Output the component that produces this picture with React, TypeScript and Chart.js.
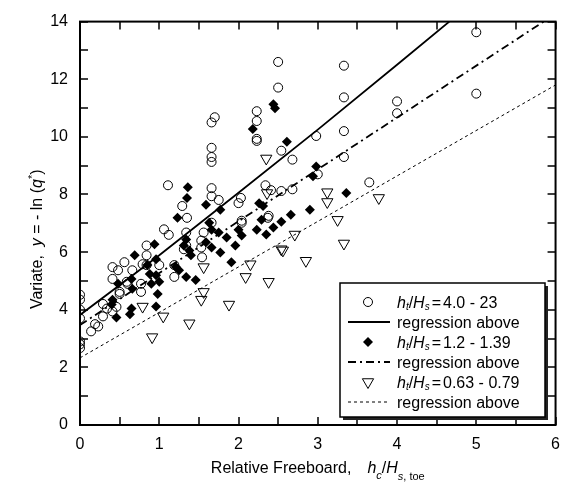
import React, { useEffect, useRef } from 'react';
import { Chart, registerables } from 'chart.js';

Chart.register(...registerables);

const FONT = '"Liberation Sans", Arial, Helvetica, sans-serif';

// h_t/H_s = 4.0 - 23 (open circles)
const circlePts: [number, number][] = [
  [0, 4.52], [0, 4.35], [0, 4.0], [0, 3.7], [0, 2.9], [0, 2.8], [0, 2.67],
  [0.14, 3.25], [0.19, 3.5], [0.23, 3.42], [0.29, 3.77], [0.29, 4.2], [0.41, 3.94], [0.46, 4.1], [0.5, 4.55],
  [0.34, 4.04], [0.6, 4.9], [0.5, 4.62],
  [0.41, 5.48], [0.48, 5.37], [0.41, 5.07], [0.56, 5.65], [0.66, 5.37], [0.59, 4.97], [0.77, 4.9], [0.77, 4.62],
  [0.84, 6.23], [0.84, 5.89], [0.84, 5.55], [0.79, 5.58], [1.0, 5.55], [1.06, 6.79], [1.12, 6.6], [1.19, 5.55], [1.19, 5.14],
  [1.34, 6.68], [1.35, 7.19], [1.29, 7.6], [1.53, 6.4], [1.53, 6.16], [1.54, 5.82], [1.56, 6.68], [1.66, 7.02],
  [2.0, 7.7], [2.04, 7.02], [2.37, 7.19], [1.34, 6.23], [1.31, 6.1],
  [1.11, 8.32], [1.7, 10.68], [1.66, 10.5], [1.66, 9.62], [1.66, 9.3], [1.66, 9.13], [1.66, 8.22], [1.66, 7.94],
  [1.75, 7.81], [2.03, 7.88],
  [2.23, 10.89], [2.23, 10.55], [2.23, 9.93], [2.23, 9.86], [2.5, 12.6], [2.5, 11.71], [2.54, 9.52], [2.68, 9.21],
  [2.34, 8.32], [2.41, 8.15], [2.54, 8.12], [2.68, 8.18], [2.98, 10.03], [2.38, 7.26], [2.04, 7.09],
  [3.0, 8.7], [3.33, 12.47], [3.33, 11.37], [3.33, 10.2], [3.33, 9.3], [3.65, 8.42], [4.0, 11.23], [4.0, 10.82],
  [5.0, 13.63], [5.0, 11.5],
];

// h_t/H_s = 1.2 - 1.39 (filled diamonds)
const diamondPts: [number, number][] = [
  [1.59, 7.64], [1.77, 7.47], [1.23, 7.19], [1.63, 7.02], [1.66, 6.78], [1.75, 6.68], [1.85, 6.51], [1.96, 6.23],
  [2.0, 6.78], [2.04, 6.58], [2.23, 6.78], [2.35, 6.61], [2.44, 6.85], [2.54, 7.05], [2.66, 7.3], [2.9, 7.47],
  [2.29, 7.12], [2.31, 7.6], [2.26, 7.7],
  [0.94, 6.27], [0.69, 5.89], [0.96, 5.75], [0.85, 5.55], [0.88, 5.24], [0.96, 5.2], [1.0, 4.97], [0.9, 4.9],
  [0.65, 5.07], [0.66, 4.73], [0.48, 4.9], [0.41, 4.35], [0.4, 4.18], [0.65, 4.04], [0.63, 3.84], [0.46, 3.73],
  [0.98, 4.55], [0.96, 4.11],
  [1.21, 5.48], [1.25, 5.37], [1.34, 5.14], [1.34, 6.44], [1.31, 6.23], [1.38, 6.06], [1.4, 5.89], [1.46, 5.03],
  [1.59, 6.34], [1.66, 6.16], [1.77, 5.99], [1.91, 5.65],
  [1.36, 8.25], [1.35, 7.88], [2.18, 10.27], [2.44, 11.13], [2.46, 10.99], [2.61, 9.83], [2.98, 8.97], [2.94, 8.63],
  [3.36, 8.05],
];

// h_t/H_s = 0.63 - 0.79 (open down triangles)
const trianglePts: [number, number][] = [
  [2.35, 9.25], [2.36, 8.05], [3.12, 8.08], [3.12, 7.74], [3.77, 7.88], [3.25, 7.12], [3.33, 6.3], [2.71, 6.61],
  [2.54, 6.1], [2.85, 5.7], [1.56, 5.48], [1.56, 4.62], [1.53, 4.35], [1.88, 4.18], [2.15, 5.58], [2.09, 5.14],
  [2.38, 4.97], [2.56, 6.06], [0.79, 4.11], [1.05, 3.77], [1.38, 3.53], [0.91, 3.05],
];

// regression lines
const solidLine: [number, number][] = [[0, 3.82], [1, 5.89], [2, 8.06], [3, 10.25], [4, 12.5], [4.66, 14]];
const dashDotLine: [number, number][] = [[0, 3.47], [5.85, 14.0]];
const dottedLine: [number, number][] = [[0, 2.33], [6, 11.8]];

const xTickLabels = [0, 1, 2, 3, 4, 5, 6];
const yTickLabels = [0, 2, 4, 6, 8, 10, 12, 14];
const xMarkTicks = [0, 0.5, 1, 1.5, 2, 2.5, 3, 3.5, 4, 4.5, 5, 5.5, 6];
const yMarkTicks = [0, 1, 2, 3, 4, 5, 6, 7, 8, 9, 10, 11, 12, 13, 14];

const legendRanges = ['4.0 - 23', '1.2 - 1.39', '0.63 - 0.79'];
const legendLineText = 'regression above';

type Piece = { t?: string; italic?: boolean; size?: number; dy?: number; gap?: number };

function fontStr(p: Piece) {
  return `${p.italic ? 'italic ' : ''}${p.size ?? 16}px ${FONT}`;
}
function richWidth(ctx: CanvasRenderingContext2D, pieces: Piece[]) {
  let w = 0;
  for (const p of pieces) {
    if (p.gap) { w += p.gap; continue; }
    ctx.font = fontStr(p);
    w += ctx.measureText(p.t || '').width;
  }
  return w;
}
function drawRich(ctx: CanvasRenderingContext2D, x: number, y: number, pieces: Piece[]) {
  let cx = x;
  ctx.textAlign = 'left';
  ctx.textBaseline = 'alphabetic';
  for (const p of pieces) {
    if (p.gap) { cx += p.gap; continue; }
    ctx.font = fontStr(p);
    ctx.fillText(p.t || '', cx, y + (p.dy || 0));
    cx += ctx.measureText(p.t || '').width;
  }
}

function drawMarker(ctx: CanvasRenderingContext2D, kind: string, x: number, y: number) {
  ctx.beginPath();
  ctx.lineWidth = 1;
  ctx.strokeStyle = '#000';
  if (kind === 'circle') {
    ctx.arc(x, y, 4.5, 0, Math.PI * 2);
    ctx.stroke();
  } else if (kind === 'diamond') {
    ctx.moveTo(x, y - 5); ctx.lineTo(x + 5, y); ctx.lineTo(x, y + 5); ctx.lineTo(x - 5, y); ctx.closePath();
    ctx.fillStyle = '#000'; ctx.fill();
  } else {
    const r = 6.5;
    ctx.moveTo(x - r * 0.866, y - r * 0.5); ctx.lineTo(x + r * 0.866, y - r * 0.5); ctx.lineTo(x, y + r); ctx.closePath();
    ctx.stroke();
  }
}

const decorPlugin = {
  id: 'decor',
  afterDraw(chart: any) {
    const { ctx, chartArea: a, scales } = chart;
    const xs = scales.x, ys = scales.y;
    ctx.save();
    // frame
    ctx.strokeStyle = '#000';
    ctx.lineWidth = 2;
    ctx.strokeRect(a.left, a.top, a.right - a.left, a.bottom - a.top);
    // inward ticks on all sides
    const TL = 8;
    ctx.lineWidth = 1.5;
    ctx.beginPath();
    xMarkTicks.forEach((v) => {
      const px = Math.round(xs.getPixelForValue(v));
      ctx.moveTo(px, a.bottom); ctx.lineTo(px, a.bottom - TL);
      ctx.moveTo(px, a.top); ctx.lineTo(px, a.top + TL);
    });
    yMarkTicks.forEach((v) => {
      const py = Math.round(ys.getPixelForValue(v));
      ctx.moveTo(a.left, py); ctx.lineTo(a.left + TL, py);
      ctx.moveTo(a.right, py); ctx.lineTo(a.right - TL, py);
    });
    ctx.stroke();

    // legend box
    const L = { left: 340, top: 283, right: 545, bottom: 417 };
    ctx.fillStyle = '#222';
    ctx.fillRect(L.left + 3, L.top + 3, L.right - L.left, L.bottom - L.top);
    ctx.fillStyle = '#fff';
    ctx.fillRect(L.left, L.top, L.right - L.left, L.bottom - L.top);
    ctx.lineWidth = 1.5;
    ctx.strokeStyle = '#000';
    ctx.strokeRect(L.left, L.top, L.right - L.left, L.bottom - L.top);

    const markers = ['circle', 'diamond', 'triangle'];
    const lineStyles = [
      { dash: [] as number[], w: 1.8 },
      { dash: [8, 4, 2, 4], w: 1.8 },
      { dash: [3, 3], w: 1 },
    ];
    ctx.fillStyle = '#000';
    for (let i = 0; i < 3; i++) {
      const cy1 = 302 + i * 40;
      const cy2 = cy1 + 20;
      drawMarker(ctx, markers[i], 368, cy1);
      ctx.fillStyle = '#000';
      drawRich(ctx, 397, cy1 + 5.5, [
        { t: 'h', italic: true },
        { t: 't', italic: true, size: 10, dy: 2 },
        { t: '/' },
        { t: 'H', italic: true },
        { t: 's', italic: true, size: 10, dy: 2 },
        { gap: 2 },
        { t: '=' },
        { gap: 2 },
        { t: legendRanges[i] },
      ]);
      ctx.save();
      ctx.beginPath();
      ctx.setLineDash(lineStyles[i].dash);
      ctx.lineWidth = lineStyles[i].w;
      ctx.moveTo(348, cy2); ctx.lineTo(390, cy2);
      ctx.stroke();
      ctx.restore();
      ctx.fillStyle = '#000';
      drawRich(ctx, 397, cy2 + 5.5, [{ t: legendLineText }]);
    }

    // x-axis title
    const xt: Piece[] = [
      { t: 'Relative Freeboard,' },
      { gap: 16 },
      { t: 'h', italic: true },
      { t: 'c', italic: true, size: 11, dy: 6 },
      { t: '/', },
      { t: 'H', italic: true },
      { t: 's', italic: true, size: 11, dy: 7 },
      { t: ', toe', size: 11, dy: 7 },
    ];
    const xw = richWidth(ctx, xt);
    ctx.fillStyle = '#000';
    drawRich(ctx, (a.left + a.right) / 2 - xw / 2, 473, xt);

    // y-axis title
    const yt: Piece[] = [
      { t: 'Variate,  ' },
      { t: 'y', italic: true },
      { t: ' = - ln (' },
      { t: 'q', italic: true },
      { t: '*', size: 11, dy: -6 },
      { t: ')' },
    ];
    const yw = richWidth(ctx, yt);
    ctx.save();
    ctx.translate(42, (a.top + a.bottom) / 2 + 16);
    ctx.rotate(-Math.PI / 2);
    drawRich(ctx, -yw / 2, 0, yt);
    ctx.restore();

    ctx.restore();
  },
};

export default function App() {
  const ref = useRef<HTMLCanvasElement | null>(null);
  useEffect(() => {
    if (!ref.current) return;
    const toXY = (arr: [number, number][]) => arr.map(([x, y]) => ({ x, y }));
    const chart = new Chart(ref.current, {
      type: 'scatter',
      data: {
        datasets: [
          {
            label: 'ht/Hs = 4.0 - 23',
            data: toXY(circlePts),
            pointStyle: 'circle',
            pointRadius: 4.5,
            borderColor: '#000',
            borderWidth: 1,
            backgroundColor: 'rgba(0,0,0,0)',
          },
          {
            label: 'ht/Hs = 1.2 - 1.39',
            data: toXY(diamondPts),
            pointStyle: 'rectRot',
            pointRadius: 5,
            borderColor: '#000',
            borderWidth: 0,
            backgroundColor: '#000',
          },
          {
            label: 'ht/Hs = 0.63 - 0.79',
            data: toXY(trianglePts),
            pointStyle: 'triangle',
            pointRotation: 180,
            pointRadius: 6.5,
            borderColor: '#000',
            borderWidth: 1,
            backgroundColor: 'rgba(0,0,0,0)',
          },
          {
            label: 'regression (4.0 - 23)',
            data: toXY(solidLine),
            showLine: true,
            pointRadius: 0,
            borderColor: '#000',
            borderWidth: 1.8,
          },
          {
            label: 'regression (1.2 - 1.39)',
            data: toXY(dashDotLine),
            showLine: true,
            pointRadius: 0,
            borderColor: '#000',
            borderWidth: 1.8,
            borderDash: [8, 4, 2, 4],
          },
          {
            label: 'regression (0.63 - 0.79)',
            data: toXY(dottedLine),
            showLine: true,
            pointRadius: 0,
            borderColor: '#000',
            borderWidth: 1,
            borderDash: [3, 3],
          },
        ],
      },
      options: {
        animation: false,
        responsive: false,
        devicePixelRatio: 1,
        layout: { padding: { top: 16, right: 10, left: 0, bottom: 0 } },
        plugins: { legend: { display: false }, tooltip: { enabled: false } },
        scales: {
          x: {
            type: 'linear',
            min: 0,
            max: 6,
            grid: { display: false, drawTicks: false },
            border: { display: false },
            ticks: { font: { family: FONT, size: 16 }, color: '#000', padding: 10, maxRotation: 0 },
            afterBuildTicks: (s: any) => { s.ticks = xTickLabels.map((v) => ({ value: v })); },
            afterFit: (s: any) => { s.height = 59; },
          },
          y: {
            type: 'linear',
            min: 0,
            max: 14,
            grid: { display: false, drawTicks: false },
            border: { display: false },
            ticks: { font: { family: FONT, size: 16 }, color: '#000', padding: 12 },
            afterBuildTicks: (s: any) => { s.ticks = yTickLabels.map((v) => ({ value: v })); },
            afterFit: (s: any) => { s.width = 80; },
          },
        },
      },
      plugins: [decorPlugin],
    } as any);
    return () => chart.destroy();
  }, []);
  return (
    <div style={{ position: 'fixed', left: 0, top: 0, width: 570, height: 484, background: '#fff' }}>
      <canvas ref={ref} width={570} height={484} style={{ width: 570, height: 484, display: 'block' }} />
    </div>
  );
}
